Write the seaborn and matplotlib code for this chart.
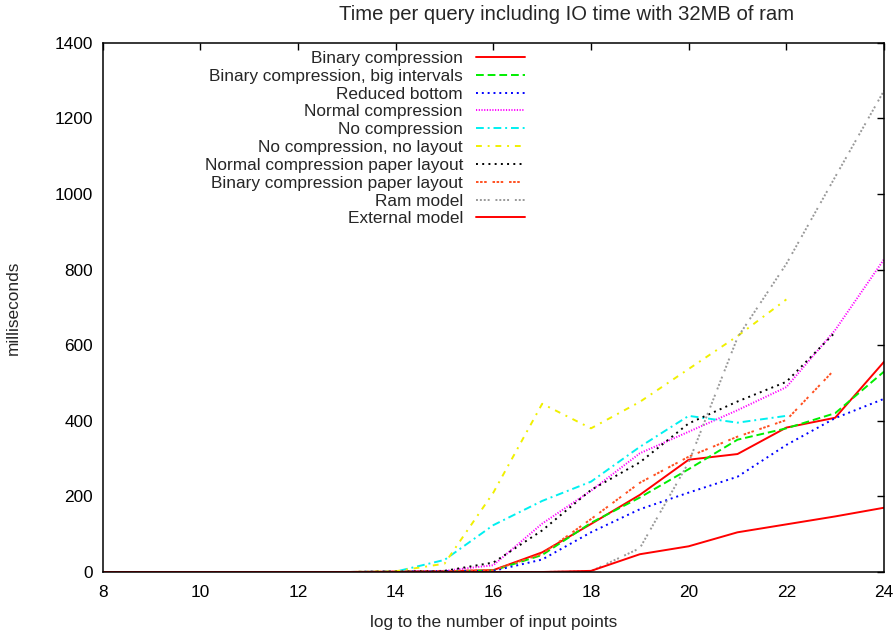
import matplotlib
matplotlib.use("Agg")
import matplotlib.pyplot as plt
import seaborn as sns
import pandas as pd

# ---- data -------------------------------------------------------------
x_all = list(range(8, 25))

binary_compression = [0, 0, 0, 0, 0, 0, 1, 2, 5, 52, 127, 204, 297, 312, 382, 408, 556]
binary_big_intervals = [0, 0, 0, 0, 0, 0, 1, 2, 4, 45, 130, 197, 272, 350, 380, 420, 530]
reduced_bottom = [0, 0, 0, 0, 0, 0, 1, 2, 3, 33, 105, 166, 210, 252, 336, 407, 458]
normal_compression = [0, 0, 0, 0, 0, 0, 1, 3, 18, 128, 215, 314, 371, 428, 489, 640, 827]
no_compression = [0, 0, 0, 0, 0, 0, 1, 32, 124, 188, 239, 331, 413, 395, 413]          # 8..22
no_compression_no_layout = [0, 0, 0, 0, 0, 0, 2, 22, 210, 445, 380, 450, 537, 624, 721]  # 8..22
normal_paper_layout = [0, 0, 0, 0, 0, 0, 1, 3, 25, 110, 217, 290, 393, 451, 503, 634]    # 8..23
binary_paper_layout = [0, 0, 0, 0, 0, 0, 1, 2, 5, 48, 140, 236, 305, 358, 402, 537]      # 8..23
ram_model = [0, 0, 0, 0, 0, 0, 0, 0, 0, 0, 2, 63, 290, 620, 815, 1045, 1273]
external_model = [0, 0, 0, 0, 0, 0, 0, 0, 0, 0, 3, 47, 68, 105, 126, 147, 170]

labels = ["Binary compression", "Binary compression, big intervals", "Reduced bottom",
          "Normal compression", "No compression", "No compression, no layout",
          "Normal compression paper layout", "Binary compression paper layout",
          "Ram model", "External model"]
series = [binary_compression, binary_big_intervals, reduced_bottom, normal_compression,
          no_compression, no_compression_no_layout, normal_paper_layout,
          binary_paper_layout, ram_model, external_model]

colors = ["#ff0000", "#00ee00", "#0000ff", "#ff00ff", "#00f0f0", "#f0f000",
          "#000000", "#ff5020", "#999999", "#ff0000"]
styles = ["-", (0, (4, 2)), (0, (1, 2)), (0, (0.6, 0.8)), (0, (4, 2, 1, 2)),
          (0, (3, 3, 1, 3)), (0, (1, 2.2)), (0, (1.3, 0.8, 1.3, 0.8, 1.3, 3)),
          (0, (1, 1, 1, 1, 1, 1, 1, 3)), "-"]

title = "Time per query including IO time with 32MB of ram"
xlabel = "log to the number of input points"
ylabel = "milliseconds"
xticks = [8, 10, 12, 14, 16, 18, 20, 22, 24]
yticks = [0, 200, 400, 600, 800, 1000, 1200, 1400]

# ---- plot -------------------------------------------------------------
sns.set_theme(style="white")
plt.rcParams["font.family"] = ["Liberation Sans", "DejaVu Sans"]
FS = 12.4

fig = plt.figure(figsize=(8.96, 6.30), dpi=100)
W, H = 896, 630
left, right, top, bottom = 102.7, 884, 42.7, 572
ax = fig.add_axes([left / W, 1 - bottom / H, (right - left) / W, (bottom - top) / H])

for lab, vals, col, ls in zip(labels, series, colors, styles):
    df = pd.DataFrame({"x": x_all[:len(vals)], "y": vals})
    sns.lineplot(data=df, x="x", y="y", ax=ax, color=col, linestyle=ls,
                 linewidth=1.4, label=lab, legend=False)

ax.set_xlim(8, 24)
ax.set_ylim(0, 1400)
ax.set_xticks(xticks)
ax.set_yticks(yticks)
ax.tick_params(direction="in", length=5, width=1, top=True, right=True,
               labelsize=FS, colors="black")
ax.tick_params(axis="x", pad=9.5)
ax.tick_params(axis="y", pad=7)
for s in ax.spines.values():
    s.set_color("black")
    s.set_linewidth(1.1)
ax.set_xlabel(xlabel, fontsize=FS, labelpad=11)
ax.set_ylabel(ylabel, fontsize=FS)
ax.yaxis.set_label_coords((21 - left) / (right - left), 0.5)
fig.text(567 / W, 1 - 14 / H, title, fontsize=14.6, ha="center", va="center")

handles = ax.get_lines()
ax.legend(handles, labels, loc="upper right", bbox_to_anchor=(525 / W, 1 - 51 / H),
          bbox_transform=fig.transFigure, markerfirst=False, frameon=False,
          fontsize=FS, handlelength=49 / 17.2, handletextpad=13 / 17.2,
          labelspacing=0.16, borderpad=0, borderaxespad=0)

fig.savefig("out.png", dpi=100)
